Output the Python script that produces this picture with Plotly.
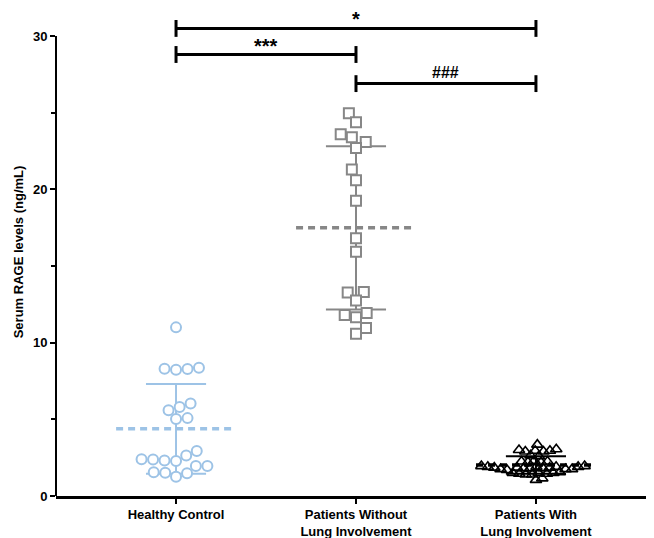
import math
import plotly.graph_objects as go

# ---------------- data ----------------
categories = ["Healthy Control", "Patients Without<br>Lung Involvement", "Patients With<br>Lung Involvement"]

healthy = [11.0, 8.30, 8.24, 8.28, 8.37, 6.03, 5.60, 5.80, 5.03, 5.08, 2.94,
           2.40, 2.31, 2.29, 2.38, 2.64, 1.96, 1.96, 1.52, 1.26, 1.48, 1.55]
without_lung = [24.97, 24.38, 23.59, 23.40, 23.10, 22.70, 21.30, 20.60, 19.26,
                16.82, 15.93, 13.30, 13.27, 12.75, 11.81, 11.66, 11.94, 10.96, 10.59]
with_lung = [3.35, 2.95, 3.00, 2.90, 2.95, 3.05, 2.90, 2.60, 2.65,
             2.25, 2.20, 2.30, 2.20, 2.25,
             1.95, 1.90, 1.85, 1.80, 1.90, 1.75, 1.80, 1.70, 1.85, 1.75, 1.90, 1.80,
             1.95, 1.85, 1.90, 1.75,
             1.50, 1.45, 1.55, 1.40, 1.50, 1.45, 1.50, 1.40,
             1.15, 1.05]

sig_pairs = [(0, 2), (0, 1), (1, 2)]
sig_labels = ["*", "***", "###"]
sig_levels = [30.5, 28.8, 26.9]

y_ticks = [0, 10, 20, 30]

# ---------------- layout constants ----------------
# (the page body adds an 8px margin, so the figure is sized to fit the window)
W, H = 646, 530
ML, MR, MT, MB = 48, 0, 0, 42
XR = [-0.667, 2.656]
PX_PER_Y = 15.33
YR = [0, (H - MT - MB) / PX_PER_Y]
px_x = (W - ML - MR) / (XR[1] - XR[0])
px_y = (H - MT - MB) / (YR[1] - YR[0])

BLUE = "#9dc3e6"
GRAY = "#878787"
BLACK = "#000000"


def swarm(values, diam):
    """Simple beeswarm: returns x offsets (category units)."""
    order = sorted(range(len(values)), key=lambda i: values[i])
    placed = []
    offs = [0.0] * len(values)
    side = 1
    for i in order:
        yp = values[i] * px_y
        cands = [0.0]
        for (xp, yq) in placed:
            dy = abs(yp - yq)
            if dy < diam:
                dx = math.sqrt(diam ** 2 - dy ** 2)
                cands += [xp + dx + 0.01, xp - dx - 0.01]
        best = 0.0
        for c in sorted(cands, key=lambda c: (round(abs(c), 3), -side * c)):
            if all((c - xp) ** 2 + (yp - yq) ** 2 >= diam ** 2 - 0.05 for xp, yq in placed):
                best = c
                break
        placed.append((best, yp))
        if best != 0:
            side = -side
        offs[i] = best / px_x
    return offs


def stats(v):
    m = sum(v) / len(v)
    sd = math.sqrt(sum((a - m) ** 2 for a in v) / (len(v) - 1))
    return m, sd


fig = go.Figure()

groups = [(healthy, BLUE, "circle", 11.5, 10),
          (without_lung, GRAY, "square", 11.5, 10),
          (with_lung, BLACK, "triangle-up-open", 6.5, 10)]

for gi, (vals, col, sym, diam, msize) in enumerate(groups):
    m, sd = stats(vals)
    xs = [gi, gi, None, gi - 0.167, gi + 0.167, None, gi - 0.167, gi + 0.167]
    ys = [m - sd, m + sd, None, m + sd, m + sd, None, m - sd, m - sd]
    fig.add_trace(go.Scatter(x=xs, y=ys, mode="lines", line=dict(color=col, width=2),
                             hoverinfo="skip", showlegend=False))
    fig.add_trace(go.Scatter(x=[gi - 0.333, gi + 0.333], y=[m, m], mode="lines",
                             line=dict(color=col, width=3.5, dash="7px,5px"),
                             hoverinfo="skip", showlegend=False))
    offs = swarm(vals, diam)
    fill = "white" if not sym.endswith("open") else col
    fig.add_trace(go.Scatter(x=[gi + o for o in offs], y=vals, mode="markers",
                             marker=dict(symbol=sym, size=msize, color=fill,
                                         line=dict(color=col, width=2 if gi < 2 else 1.6)),
                             showlegend=False))

# significance brackets
for (a, b), lab, lev in zip(sig_pairs, sig_labels, sig_levels):
    t = 0.55
    fig.add_trace(go.Scatter(x=[a, a, None, a, b, None, b, b],
                             y=[lev - t, lev + t, None, lev, lev, None, lev - t, lev + t],
                             mode="lines", line=dict(color="black", width=3),
                             cliponaxis=False, hoverinfo="skip", showlegend=False))
    is_hash = lab.startswith("#")
    fig.add_annotation(x=(a + b) / 2, y=lev, text="<b>%s</b>" % lab, showarrow=False,
                       yanchor="bottom", yshift=1 if is_hash else -4,
                       font=dict(family="Liberation Sans, Arial", size=16 if is_hash else 20,
                                 color="black"))

fig.add_shape(type="line", xref="paper", yref="y", x0=0, x1=0, y0=0, y1=30,
              line=dict(color="black", width=2))

fig.update_layout(
    width=W, height=H,
    margin=dict(l=ML, r=MR, t=MT, b=MB, pad=0),
    paper_bgcolor="white", plot_bgcolor="white",
    font=dict(family="Liberation Sans, Arial", color="black"),
    xaxis=dict(range=XR, tickmode="array", tickvals=[0, 1, 2], ticktext=categories,
               automargin=False,
               showline=True, linecolor="black", linewidth=2.5, ticks="outside",
               ticklen=5, tickwidth=1.5, tickcolor="black", showgrid=False, zeroline=False,
               tickfont=dict(size=13, weight="bold", color="black")),
    yaxis=dict(range=YR, tickmode="array", tickvals=y_ticks, showline=False,
               automargin=False,
               ticks="outside", ticklen=5, tickwidth=1.5, tickcolor="black",
               minor=dict(tickmode="array", tickvals=[5, 15, 25], ticks="outside",
                          ticklen=4, tickwidth=1.5, tickcolor="black", showgrid=False),
               showgrid=False, zeroline=False,
               tickfont=dict(size=13, weight="bold", color="black"),
               title=dict(text="Serum RAGE levels (ng/mL)", standoff=6,
                          font=dict(size=13, weight="bold", color="black"))),
)

fig.write_html("out.html")
